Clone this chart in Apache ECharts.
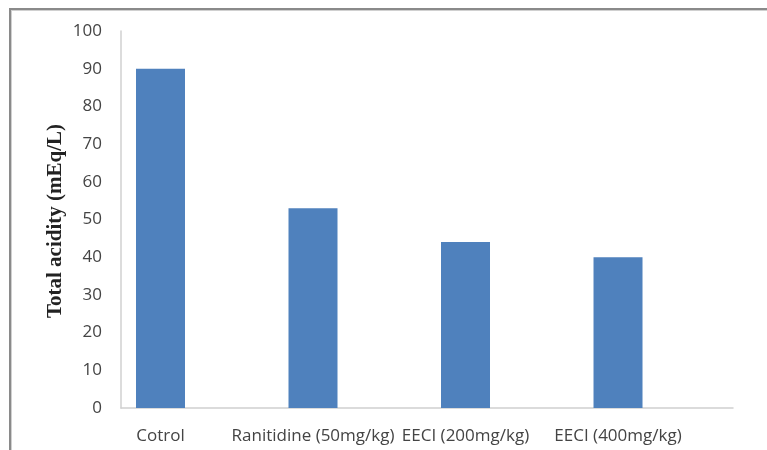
<!DOCTYPE html>
<html><head><meta charset="utf-8">
<script src="https://cdn.jsdelivr.net/npm/echarts@6/dist/echarts.min.js"></script>
<style>
html,body{margin:0;padding:0;background:#fff;}
#frame{position:absolute;left:9px;top:8px;width:800px;height:460px;border-left:2px solid #8a8a8a;border-top:2px solid #8a8a8a;box-shadow:inset 1px 1px 0 #d0d0d0;}
#chart{position:absolute;left:0;top:0;width:767px;height:450px;}
</style></head>
<body>
<div id="frame"></div>
<div id="chart"></div>
<script>
var categories = ["Cotrol", "Ranitidine (50mg/kg)", "EECI (200mg/kg)", "EECI (400mg/kg)"];
var values = [90, 53, 44, 40];
var yTicks = [0, 10, 20, 30, 40, 50, 60, 70, 80, 90, 100];
var yTitle = 'Total acidity (mEq/L)';

var chart = echarts.init(document.getElementById('chart'));
var idx = categories.map(function(c, i){ return i; });
chart.setOption({
  animation: false,
  grid: {left: 121, right: 34, top: 31, bottom: 42},
  graphic: [{
    type: 'text', x: 56, y: 221, rotation: Math.PI / 2,
    style: {text: yTitle, fontFamily: 'Liberation Serif', fontWeight: 'bold', fontSize: 21,
            fill: '#222', align: 'center', verticalAlign: 'middle'}
  }],
  xAxis: {
    type: 'value', min: -0.259, max: 3.754,
    splitLine: {show: false},
    axisLine: {show: true, onZero: false, lineStyle: {color: '#d0d0d0', width: 1.5}},
    axisTick: {show: false},
    axisLabel: {
      customValues: idx, margin: 20,
      fontFamily: 'Open Sans', fontSize: 17, color: '#444',
      formatter: function(v){ return categories[Math.round(v)]; }
    }
  },
  yAxis: {
    type: 'value', min: 0, max: 100, interval: 10,
    splitLine: {show: false},
    axisLine: {show: true, onZero: false, lineStyle: {color: '#d0d0d0', width: 1.5}},
    axisTick: {show: false},
    axisLabel: {margin: 19, fontFamily: 'Open Sans', fontSize: 17, color: '#444'}
  },
  series: [{
    type: 'bar', barWidth: 49,
    itemStyle: {color: '#4f81bd'},
    data: values.map(function(v, i){ return [idx[i], v]; })
  }]
});
</script>
</body></html>
